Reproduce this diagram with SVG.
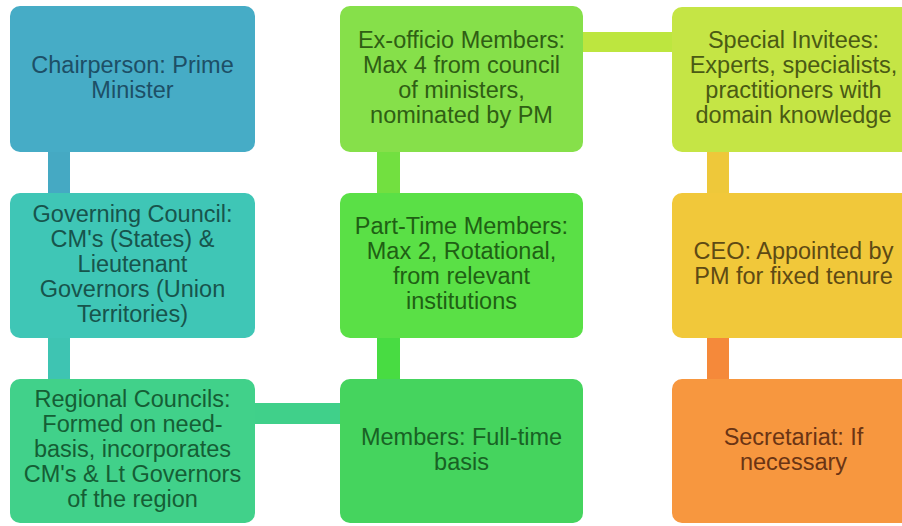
<svg xmlns="http://www.w3.org/2000/svg" width="902" height="526" viewBox="0 0 902 526">
<style>
text{font-family:"Liberation Sans",Arial,sans-serif;font-size:23.5px;text-anchor:middle}
.c1{fill:#46acc6}.c2{fill:#3fc6b6}.c3{fill:#41d18a}
.c4{fill:#45d45e}.c5{fill:#5ae046}.c6{fill:#86e04a}
.c7{fill:#c5e545}.c8{fill:#f1c83a}.c9{fill:#f7973f}
</style>
<rect width="902" height="526" fill="#ffffff"/>
<g id="connectors">
<rect x="48" y="150" width="22" height="45" fill="#45a9c3"/>
<rect x="48" y="336" width="22" height="45" fill="#3ec4b2"/>
<rect x="253" y="403" width="89" height="21" fill="#40d08a"/>
<rect x="377" y="336" width="23" height="45" fill="#48dc42"/>
<rect x="377" y="150" width="23" height="45" fill="#72e040"/>
<rect x="581" y="32" width="93" height="20" fill="#bde63f"/>
<rect x="707" y="150" width="22" height="45" fill="#eec83a"/>
<rect x="707" y="336" width="22" height="45" fill="#f5893a"/>
</g>
<g id="chairperson">
<rect class="c1" x="10" y="6" width="245" height="146" rx="10"/>
<text fill="#1d4f66"><tspan x="132.5" y="72.5">Chairperson: Prime</tspan><tspan x="132.5" y="97.5">Minister</tspan></text>
</g>
<g id="governing-council">
<rect class="c2" x="10" y="193" width="245" height="145" rx="10"/>
<text fill="#17544c"><tspan x="132.5" y="221.5">Governing Council:</tspan><tspan x="132.5" y="246.5">CM's (States) &amp;</tspan><tspan x="132.5" y="271.5">Lieutenant</tspan><tspan x="132.5" y="296.5">Governors (Union</tspan><tspan x="132.5" y="321.5">Territories)</tspan></text>
</g>
<g id="regional-councils">
<rect class="c3" x="10" y="379" width="245" height="144" rx="10"/>
<text fill="#155e35"><tspan x="132.5" y="407">Regional Councils:</tspan><tspan x="132.5" y="432">Formed on need-</tspan><tspan x="132.5" y="457">basis, incorporates</tspan><tspan x="132.5" y="482">CM's &amp; Lt Governors</tspan><tspan x="132.5" y="507">of the region</tspan></text>
</g>
<g id="ex-officio">
<rect class="c6" x="340" y="6" width="243" height="146" rx="10"/>
<text fill="#2f5e14"><tspan x="461.5" y="47.5">Ex-officio Members:</tspan><tspan x="461.5" y="72.5">Max 4 from council</tspan><tspan x="461.5" y="97.5">of ministers,</tspan><tspan x="461.5" y="122.5">nominated by PM</tspan></text>
</g>
<g id="part-time">
<rect class="c5" x="340" y="193" width="243" height="145" rx="10"/>
<text fill="#1f6014"><tspan x="461.5" y="234">Part-Time Members:</tspan><tspan x="461.5" y="259">Max 2, Rotational,</tspan><tspan x="461.5" y="284">from relevant</tspan><tspan x="461.5" y="309">institutions</tspan></text>
</g>
<g id="members">
<rect class="c4" x="340" y="379" width="243" height="144" rx="10"/>
<text fill="#186224"><tspan x="461.5" y="444.5">Members: Full-time</tspan><tspan x="461.5" y="469.5">basis</tspan></text>
</g>
<g id="special-invitees">
<rect class="c7" x="672" y="7" width="243" height="145" rx="10"/>
<text fill="#4a5a14"><tspan x="793.5" y="47.5">Special Invitees:</tspan><tspan x="793.5" y="72.5">Experts, specialists,</tspan><tspan x="793.5" y="97.5">practitioners with</tspan><tspan x="793.5" y="122.5">domain knowledge</tspan></text>
</g>
<g id="ceo">
<rect class="c8" x="672" y="193" width="243" height="145" rx="10"/>
<text fill="#5e4a14"><tspan x="793.5" y="259">CEO: Appointed by</tspan><tspan x="793.5" y="284">PM for fixed tenure</tspan></text>
</g>
<g id="secretariat">
<rect class="c9" x="672" y="379" width="243" height="144" rx="10"/>
<text fill="#6a3414"><tspan x="793.5" y="444.5">Secretariat: If</tspan><tspan x="793.5" y="469.5">necessary</tspan></text>
</g>
</svg>
